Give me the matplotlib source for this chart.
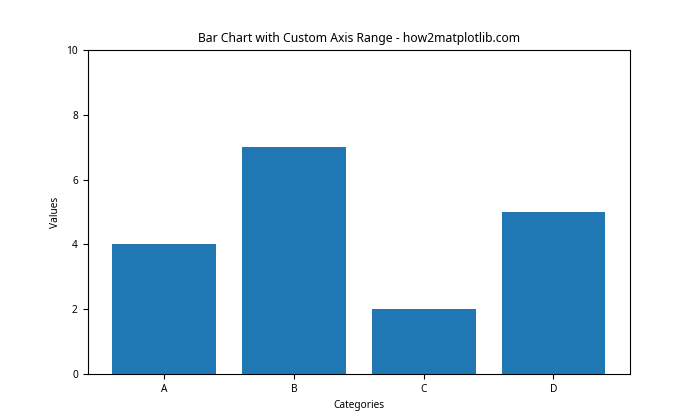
import matplotlib
matplotlib.use("Agg")
import matplotlib.pyplot as plt

plt.rcParams['font.family'] = ['Noto Sans', 'DejaVu Sans']
plt.rcParams['font.size'] = 7.3

categories = ['A', 'B', 'C', 'D']
values = [4, 7, 2, 5]

fig, ax = plt.subplots(figsize=(7, 4.2), dpi=100)
ax.bar(categories, values, color='#1f77b4')
ax.set_ylim(0, 10)
ax.set_title('Bar Chart with Custom Axis Range - how2matplotlib.com', fontsize=7.3 * 1.2)
ax.set_xlabel('Categories')
ax.set_ylabel('Values')
fig.savefig('out.png', dpi=100)
